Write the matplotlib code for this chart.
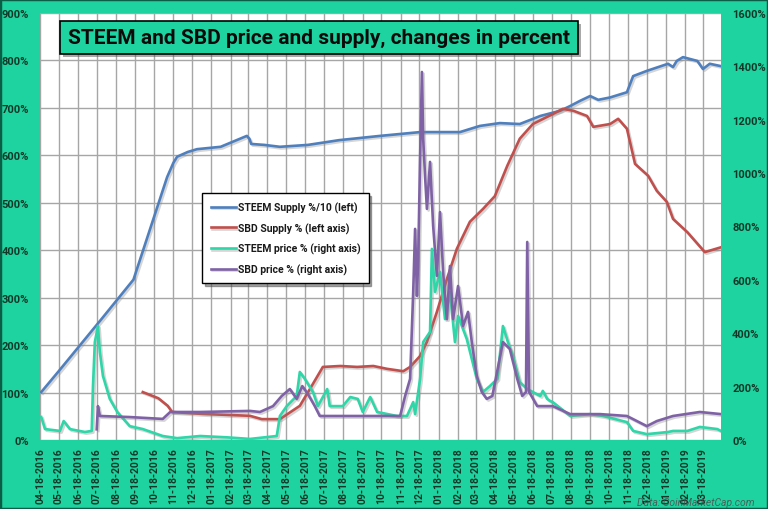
import matplotlib
matplotlib.use("Agg")
import matplotlib.pyplot as plt
import matplotlib.dates as mdates
import matplotlib.patheffects as pe
from matplotlib.patches import Rectangle
import datetime as dt

plt.rcParams["font.family"] = ["Roboto", "DejaVu Sans"]

START = dt.date(2016, 4, 18)

# day offsets from 04-18-2016 and values (percent)
steem_supply_days = [2, 30, 60, 100, 150, 204, 214, 220, 237, 252, 290, 332, 336, 339, 360, 385, 430, 480,
                     546, 610, 674, 706, 738, 770, 803, 835, 851, 867, 883, 896, 915, 942, 952, 974, 1008,
                     1016, 1022, 1032, 1055, 1064, 1075, 1093]
steem_supply = [101, 145, 193, 257, 338, 554, 584, 597, 607, 613, 618, 641, 635, 624, 622, 618, 622, 632,
                641, 649, 649, 662, 668, 666, 683, 694, 704, 715, 725, 717, 722, 733, 767, 778, 793,
                786, 799, 807, 799, 782, 793, 788]

sbd_supply_days = [165, 190, 205, 212, 260, 337, 356, 385, 417, 433, 454, 482, 509, 535, 557, 583, 594, 610,
                   621, 637, 653, 669, 690, 711, 730, 750, 770, 791, 823, 839, 856, 878, 888, 915, 928,
                   942, 955, 976, 990, 1006, 1016, 1039, 1067, 1095]
sbd_supply = [101, 88, 72, 59, 55, 51, 44, 44, 72, 107, 154, 156, 154, 156, 150, 145, 154, 177,
              207, 270, 339, 403, 460, 487, 514, 578, 635, 666, 687, 698, 694, 683, 660, 666, 677,
              656, 582, 557, 525, 502, 466, 438, 396, 407]

steem_price_days = [2, 8, 32, 38, 48, 72, 83, 85, 88, 93, 96, 101, 112, 124, 144, 165, 197, 220, 257, 300,
                    337, 380, 385, 396, 412, 417, 425, 438, 446, 461, 465, 486, 498, 510, 518, 530, 541,
                    573, 589, 599, 602, 610, 615, 626, 629, 634, 642, 650, 658, 666, 671, 685, 693, 701,
                    711, 722, 734, 743, 751, 759, 770, 782, 803, 807, 814, 819, 823, 851, 883, 904, 942,
                    952, 974, 1008, 1016, 1039, 1059, 1087, 1093]
steem_price = [86, 41, 34, 71, 41, 30, 34, 200, 367, 427, 330, 240, 154, 105, 52, 41, 15, 7, 15, 10,
               4, 15, 90, 127, 165, 255, 229, 180, 127, 191, 127, 127, 161, 154, 105, 161, 105,
               90, 90, 142, 97, 229, 367, 405, 716, 555, 630, 453, 555, 367, 465, 378, 304, 229,
               180, 202, 229, 427, 367, 315, 217, 191, 165, 184, 154, 146, 142, 90, 97, 90, 67,
               34, 22, 30, 34, 34, 49, 41, 34]

sbd_price_days = [91, 93, 96, 144, 197, 209, 257, 337, 353, 374, 388, 401, 412, 421, 430, 441, 449, 498,
                  578, 586, 594, 599, 602, 605, 607, 610, 613, 615, 618, 621, 626, 631, 637, 642, 647,
                  653, 658, 663, 671, 679, 687, 693, 701, 709, 717, 726, 743, 754, 766, 774, 780, 782,
                  785, 798, 823, 851, 899, 942, 974, 990, 1016, 1059, 1093]
sbd_price = [40, 127, 90, 86, 79, 105, 105, 109, 105, 127, 165, 191, 154, 202, 172, 127, 90, 90,
             90, 165, 229, 555, 791, 540, 678, 1053, 1379, 1128, 989, 866, 1042, 802, 615, 854, 630,
             453, 652, 453, 577, 427, 480, 367, 240, 180, 154, 165, 367, 341, 229, 165, 180, 742,
             180, 127, 127, 97, 97, 90, 52, 71, 90, 105, 97]

left_ticks = [0, 100, 200, 300, 400, 500, 600, 700, 800, 900]
right_ticks = [0, 200, 400, 600, 800, 1000, 1200, 1400, 1600]
legend_labels = ["STEEM Supply %/10 (left)", "SBD Supply % (left axis)",
                 "STEEM price % (right axis)", "SBD price % (right axis)"]
title = "STEEM and SBD price and supply, changes in percent"


def to_dates(days):
    return [START + dt.timedelta(days=d) for d in days]


BG = "#1fd3a0"
BLUE = "#4f7fbd"
RED = "#c0504d"
TEAL = "#2ed6a8"
PURPLE = "#7f62a5"
TXT = "#103828"

fig = plt.figure(figsize=(7.68, 5.10), dpi=100, facecolor=BG)
ax = fig.add_axes([40 / 768, 1 - 441 / 510, 681 / 768, 427 / 510])
ax2 = ax.twinx()
ax.set_facecolor("white")

shadow = [pe.SimpleLineShadow(offset=(1.2, -1.2), shadow_color="#888888", alpha=0.35), pe.Normal()]
lw = 1.9
l1, = ax.plot(to_dates(steem_supply_days), steem_supply, color=BLUE, lw=lw, path_effects=shadow)
l2, = ax.plot(to_dates(sbd_supply_days), sbd_supply, color=RED, lw=lw, path_effects=shadow)
l3, = ax2.plot(to_dates(steem_price_days), steem_price, color=TEAL, lw=lw, path_effects=shadow)
l4, = ax2.plot(to_dates(sbd_price_days), sbd_price, color=PURPLE, lw=lw, path_effects=shadow)

ax.set_ylim(0, 900)
ax2.set_ylim(0, 1600)
ax.set_xlim(START, START + dt.timedelta(days=1093))

ax.set_yticks(left_ticks)
ax.set_yticklabels([f"{v}%" for v in left_ticks])
ax2.set_yticks(right_ticks)
ax2.set_yticklabels([f"{v}%" for v in right_ticks])

months = []
y, m = 2016, 4
while (y, m) <= (2019, 3):
    months.append(dt.date(y, m, 18))
    m += 1
    if m > 12:
        m = 1
        y += 1
ax.set_xticks(months)
ax.xaxis.set_major_formatter(mdates.DateFormatter("%m-%d-%Y"))
for lab in ax.get_xticklabels():
    lab.set_rotation(90)
    lab.set_fontweight("bold")
    lab.set_fontsize(7.5)
    lab.set_color(TXT)

for a in (ax, ax2):
    a.tick_params(length=0)
    for s in a.spines.values():
        s.set_visible(False)
ax.tick_params(axis="x", pad=5)
for lab in ax.get_yticklabels() + ax2.get_yticklabels():
    lab.set_fontweight("bold")
    lab.set_fontsize(8)
    lab.set_color(TXT)
ax.tick_params(axis="y", pad=8)
ax2.tick_params(axis="y", pad=8)

ax.grid(True, color="#a6a6a6", lw=1.0)
ax.set_axisbelow(True)

# title box
bx, by, bw, bh = 60 / 768, 1 - 55 / 510, 518 / 768, 33 / 510
fig.patches.append(Rectangle((bx + 3 / 768, by - 3 / 510), bw, bh, transform=fig.transFigure,
                             facecolor="#555555", alpha=0.5, edgecolor="none", zorder=5))
fig.patches.append(Rectangle((bx, by), bw, bh, transform=fig.transFigure,
                             facecolor=BG, edgecolor="black", lw=1.2, zorder=6))
fig.text(bx + bw / 2, by + bh / 2, title, ha="center", va="center", fontsize=15,
         fontweight="bold", color="#0a0a0a", zorder=7)

leg = ax2.legend([l1, l2, l3, l4], legend_labels, loc="upper left",
                 bbox_to_anchor=(197 / 768, 1 - 189 / 510), bbox_transform=fig.transFigure,
                 frameon=True, fancybox=False, shadow=True, handlelength=2.4, handletextpad=0.2,
                 labelspacing=0.9, borderpad=0.8, prop={"size": 7.5, "weight": "bold"})
leg.get_frame().set_edgecolor("black")
leg.get_frame().set_linewidth(1.0)
for t in leg.get_texts():
    t.set_color("#1a1a1a")

fig.text(755 / 768, 1 - 503 / 510, "Data: CoinMarketCap.com", ha="right", va="center",
         fontsize=7.5, style="italic", color="#4a4a4a", alpha=0.8)

fig.patches.append(Rectangle((0, 0), 1, 1, transform=fig.transFigure, fill=False,
                             edgecolor="#0b5e46", lw=2.5, zorder=10))

fig.savefig("out.png", dpi=100, facecolor=BG)
